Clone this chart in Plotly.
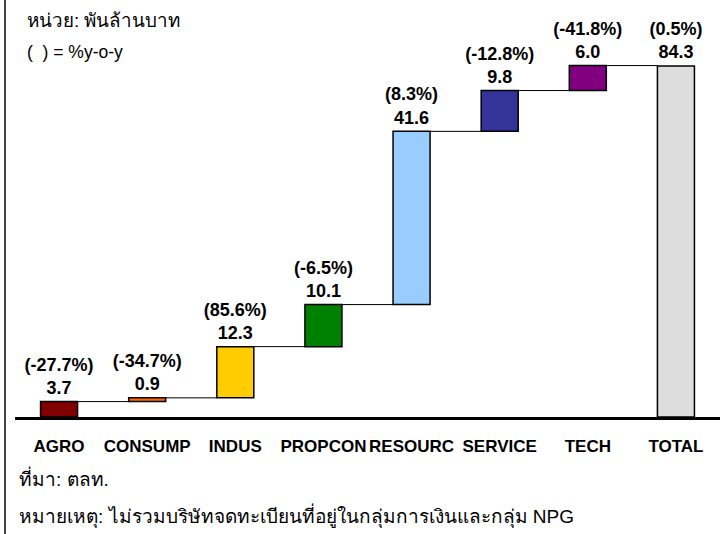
import plotly.graph_objects as go

categories = ["AGRO", "CONSUMP", "INDUS", "PROPCON", "RESOURC", "SERVICE", "TECH", "TOTAL"]
values = [3.7, 0.9, 12.3, 10.1, 41.6, 9.8, 6.0, 84.3]
yoy_pct = ["-27.7%", "-34.7%", "85.6%", "-6.5%", "8.3%", "-12.8%", "-41.8%", "0.5%"]
measures = ["relative"] * 7 + ["total"]
colors = ["#800000", "#FF6600", "#FFCC00", "#008000", "#99CCFF", "#333399", "#800080", "#DDDDDD"]

# bases for the coloured floating bars (cumulative sums of the increments)
bases = []
running = 0.0
for v, m in zip(values, measures):
    if m == "total":
        bases.append(0.0)
    else:
        bases.append(running)
        running += v

labels = [f"({p})<br>{v:.1f}" for p, v in zip(yoy_pct, values)]

FONT = "Liberation Sans, Arial, sans-serif"
BW = 0.42

fig = go.Figure()
fig.add_trace(go.Bar(
    x=categories, y=values, base=bases, width=BW,
    marker=dict(color=colors, line=dict(color="#000000", width=1.5)),
    hoverinfo="skip", showlegend=False,
))
fig.add_trace(go.Waterfall(
    x=categories, y=values, measure=measures, width=BW,
    text=labels, textposition="outside", cliponaxis=False, constraintext="none",
    textfont=dict(family=FONT, size=18, color="#000000", weight="bold"),
    increasing=dict(marker=dict(color="rgba(0,0,0,0)", line=dict(width=0))),
    decreasing=dict(marker=dict(color="rgba(0,0,0,0)", line=dict(width=0))),
    totals=dict(marker=dict(color="rgba(0,0,0,0)", line=dict(width=0))),
    connector=dict(line=dict(color="#000000", width=1)),
    showlegend=False,
))

W, H = 726, 534
ml, mr, mt, mb = 15, 6, 10, 117
ph = H - mt - mb
pw = W - ml - mr

def px_x(x):
    return (x - ml) / pw

def px_y(y):
    return (H - mb - y) / ph

ann_common = dict(xref="paper", yref="paper", xanchor="left", yanchor="middle",
                  align="left", showarrow=False)

fig.update_layout(
    width=W, height=H,
    margin=dict(l=ml, r=mr, t=mt, b=mb),
    paper_bgcolor="white", plot_bgcolor="white",
    barmode="overlay", waterfallmode="overlay",
    font=dict(family=FONT, color="#000000"),
    title=dict(text="หน่วย: พันล้านบาท", xref="container", yref="container",
               x=27 / W, y=1 - 20 / H, xanchor="left", yanchor="middle",
               font=dict(family=FONT, size=18.8, color="#000000")),
    xaxis=dict(
        showline=True, linecolor="#000000", linewidth=3,
        showgrid=False, zeroline=False, ticks="",
        tickfont=dict(family=FONT, size=17, color="#000000", weight="bold"),
        ticklabelstandoff=12,
    ),
    yaxis=dict(range=[0, ph / 4.164], visible=False, showgrid=False, zeroline=False),
    shapes=[dict(type="line", xref="paper", yref="paper",
                 x0=px_x(5), x1=px_x(5), y0=-0.31, y1=1.04,
                 line=dict(color="#444444", width=2))],
    annotations=[
        dict(text="(  ) = %y-o-y", x=px_x(25), y=px_y(52), font=dict(size=17.5), **ann_common),
        dict(text="ที่มา: ตลท.", x=px_x(17), y=px_y(478), font=dict(size=19), **ann_common),
        dict(text="หมายเหตุ: ไม่รวมบริษัทจดทะเบียนที่อยู่ในกลุ่มการเงินและกลุ่ม NPG",
             x=px_x(17), y=px_y(516), font=dict(size=19), **ann_common),
    ],
)

fig.write_html("out.html", config={"displayModeBar": False},
               post_script="document.body.style.margin='0';document.body.style.padding='0';")
